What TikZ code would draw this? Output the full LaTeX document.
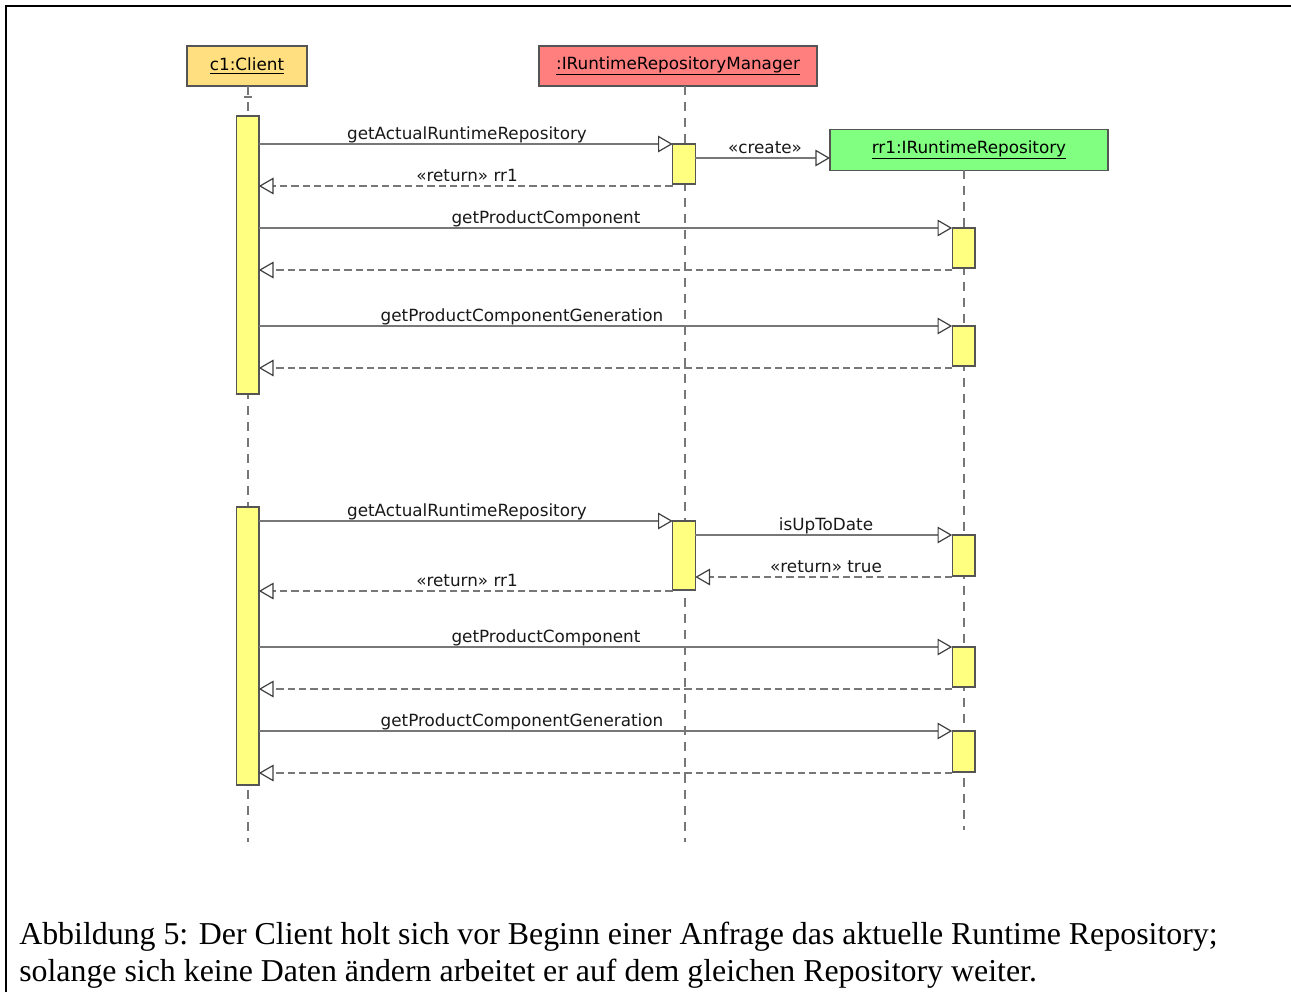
\documentclass[tikz,border=0pt]{standalone}
\usepackage{fontspec}
\setmainfont{Liberation Serif}
\newfontfamily\umlfont{DejaVu Sans}
\usetikzlibrary{arrows.meta}
\definecolor{linegray}{HTML}{777777}
\definecolor{boxedge}{HTML}{555555}
\definecolor{clientfill}{HTML}{FFDF80}
\definecolor{managerfill}{HTML}{FF7F7F}
\definecolor{repofill}{HTML}{80FF80}
\definecolor{actfill}{HTML}{FFFF80}
\tikzset{
  head/.style={draw=boxedge, line width=1pt, inner sep=0pt, outer sep=0pt,
    minimum height=30pt, font=\umlfont\fontsize{12.6}{14}\selectfont},
  act/.style={draw=boxedge, fill=actfill, line width=1pt, inner sep=0pt, outer sep=0pt,
    minimum width=17pt},
  life/.style={draw=linegray, line width=1.5pt, dash pattern=on 7pt off 5pt},
  msg/.style={draw=linegray, line width=1.5pt,
    -{Triangle[open, length=11pt, width=12.5pt, line width=0.9pt, fill=white, color=black!75]}},
  ret/.style={msg, dash pattern=on 5.5pt off 3pt},
  lbl/.style={anchor=base, font=\umlfont\fontsize{12.6}{14}\selectfont, text=black!90, inner sep=0pt},
  caption/.style={anchor=base west, inner sep=0pt, font=\fontsize{23.9}{28}\selectfont}
}
\begin{document}
\begin{tikzpicture}[x=0.75pt, y=-0.75pt]
\useasboundingbox (0,0) rectangle (1291,992);
% outer frame
\draw[line width=1.5pt] (6,992) -- (6,6) -- (1291,6);

% participants
\node[head, fill=clientfill, minimum width=90pt] (client) at (247,66) {\underline{c1:Client}};
\node[head, fill=managerfill, minimum width=208.5pt] (manager) at (678,66) {\underline{:IRuntimeRepositoryManager}};
\node[head, fill=repofill, minimum width=208.5pt, minimum height=30.75pt] (repo) at (969,150) {\underline{rr1:IRuntimeRepository}};

% lifeline end points
\coordinate (cEnd) at (247.5,842);
\coordinate (mTop) at (685,86);
\coordinate (mEnd) at (685,842);
\coordinate (rTop) at (964,170);
\coordinate (rEnd) at (964,830);

\draw[life] (client.south -| cEnd) -- (cEnd);
\draw[draw=linegray, line width=1.2pt] (243.5,97) -- (251.5,97);
\draw[life] (mTop) -- (mEnd);
\draw[life] (rTop) -- (rEnd);

% activations
\node[act, minimum height=208.5pt] (c1) at (247.5,255) {};
\node[act, minimum height=208.5pt] (c2) at (247.5,646) {};
\node[act, minimum height=30pt] (m1) at (684,164) {};
\node[act, minimum height=51.75pt] (m2) at (684,555.5) {};
\node[act, minimum height=30pt] (r1) at (963.5,248) {};
\node[act, minimum height=30pt] (r2) at (963.5,346) {};
\node[act, minimum height=30.75pt] (r3) at (963.5,555.5) {};
\node[act, minimum height=30pt] (r4) at (963.5,667) {};
\node[act, minimum height=30.75pt] (r5) at (963.5,751.5) {};

% first request
\draw[msg] (c1.east |- 0,144) -- (m1.west |- 0,144);
\node[lbl] at (467,139) {getActualRuntimeRepository};
\draw[msg] (m1.east |- 0,158) -- (repo.west |- 0,158);
\node[lbl] at (765,153) {«create»};
\draw[ret] (m1.west |- 0,186) -- (c1.east |- 0,186);
\node[lbl] at (467,181) {«return» rr1};
\draw[msg] (c1.east |- 0,228) -- (r1.west |- 0,228);
\node[lbl] at (546,223) {getProductComponent};
\draw[ret] (r1.west |- 0,270) -- (c1.east |- 0,270);
\draw[msg] (c1.east |- 0,326) -- (r2.west |- 0,326);
\node[lbl] at (522,321) {getProductComponentGeneration};
\draw[ret] (r2.west |- 0,368) -- (c1.east |- 0,368);

% second request
\draw[msg] (c2.east |- 0,521) -- (m2.west |- 0,521);
\node[lbl] at (467,516) {getActualRuntimeRepository};
\draw[msg] (m2.east |- 0,535) -- (r3.west |- 0,535);
\node[lbl] at (826,530) {isUpToDate};
\draw[ret] (r3.west |- 0,577) -- (m2.east |- 0,577);
\node[lbl] at (826,572) {«return» true};
\draw[ret] (m2.west |- 0,591) -- (c2.east |- 0,591);
\node[lbl] at (467,586) {«return» rr1};
\draw[msg] (c2.east |- 0,647) -- (r4.west |- 0,647);
\node[lbl] at (546,642) {getProductComponent};
\draw[ret] (r4.west |- 0,689) -- (c2.east |- 0,689);
\draw[msg] (c2.east |- 0,731) -- (r5.west |- 0,731);
\node[lbl] at (522,726) {getProductComponentGeneration};
\draw[ret] (r5.west |- 0,773) -- (c2.east |- 0,773);

% caption
\node[caption] (cap1) at (19,944) {Abbildung 5: Der Client holt sich vor Beginn einer Anfrage das aktuelle Runtime Repository;};
\node[caption] (cap2) at (19,981) {solange sich keine Daten ändern arbeitet er auf dem gleichen Repository weiter.};
\end{tikzpicture}
\end{document}
